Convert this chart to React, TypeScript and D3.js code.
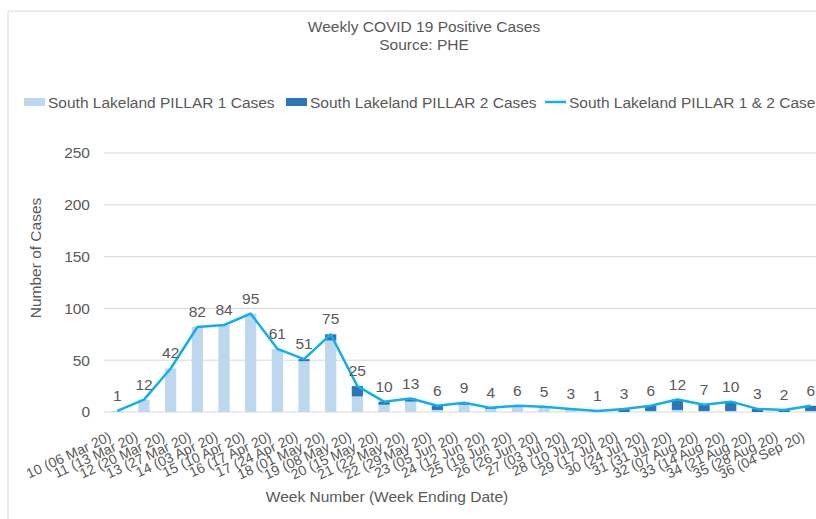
import React from "react";
import * as d3 from "d3";

// weekly data, South Lakeland
const weeks = ["10 (06 Mar 20)", "11 (13 Mar 20)", "12 (20 Mar 20)", "13 (27 Mar 20)", "14 (03 Apr 20)",
  "15 (10 Apr 20)", "16 (17 Apr 20)", "17 (24 Apr 20)", "18 (01 May 20)", "19 (08 May 20)",
  "20 (15 May 20)", "21 (22 May 20)", "22 (29 May 20)", "23 (05 Jun 20)", "24 (12 Jun 20)",
  "25 (19 Jun 20)", "26 (26 Jun 20)", "27 (03 Jul 20)", "28 (10 Jul 20)", "29 (17 Jul 20)",
  "30 (24 Jul 20)", "31 (31 Jul 20)", "32 (07 Aug 20)", "33 (14 Aug 20)", "34 (21 Aug 20)",
  "35 (28 Aug 20)", "36 (04 Sep 20)"];
const pillar1 = [1, 12, 42, 82, 84, 95, 61, 49, 69, 15, 7, 10, 2, 7, 3, 5, 4, 2, 0, 0, 1, 2, 1, 1, 0, 0, 1];
const pillar2 = [0, 0, 0, 0, 0, 0, 0, 2, 6, 10, 3, 3, 4, 2, 1, 1, 1, 1, 1, 3, 5, 10, 6, 9, 3, 2, 5];
const totals = [1, 12, 42, 82, 84, 95, 61, 51, 75, 25, 10, 13, 6, 9, 4, 6, 5, 3, 1, 3, 6, 12, 7, 10, 3, 2, 6];
const yTicks = [0, 50, 100, 150, 200, 250];

const LIGHT = "#bdd7ee";
const DARK = "#2e75b6";
const LINE = "#0fb0ec";
const TEXT = "#595959";

export default function App() {
  const width = 816;
  const height = 519;
  const font = "'Liberation Sans', Arial, sans-serif";

  // plot area runs past the right edge, as in the original export
  const x = d3.scaleBand().domain(weeks).range([104, 104 + 27 * 26.67]).paddingInner(0.58).paddingOuter(0.29);
  const y = d3.scaleLinear().domain([0, 250]).range([412, 153]);
  const cx = (w: string) => (x(w) as number) + x.bandwidth() / 2;

  const line = d3.line<number>()
    .x((d, i) => cx(weeks[i]))
    .y((d) => y(d));

  return (
    <svg width={width} height={height} style={{ position: "absolute", left: 0, top: 0, background: "#fff" }}
      fontFamily={font}>
      {/* chart frame */}
      <line x1={8} y1={11} x2={width} y2={11} stroke="#d9d9d9" />
      <line x1={8} y1={11} x2={8} y2={height} stroke="#d9d9d9" />

      <text x={424} y={32} textAnchor="middle" fontSize={15.5} fill={TEXT}>Weekly COVID 19 Positive Cases</text>
      <text x={424} y={50} textAnchor="middle" fontSize={15.5} fill={TEXT}>Source: PHE</text>

      {/* legend */}
      <rect x={24} y={98} width={21} height={8} fill={LIGHT} />
      <text x={48} y={107.5} fontSize={15.5} fill={TEXT}>South Lakeland PILLAR 1 Cases</text>
      <rect x={286} y={98} width={21} height={8} fill={DARK} />
      <text x={310} y={107.5} fontSize={15.5} fill={TEXT}>South Lakeland PILLAR 2 Cases</text>
      <line x1={545} y1={102} x2={566} y2={102} stroke={LINE} strokeWidth={2.5} />
      <text x={569} y={107.5} fontSize={15.5} fill={TEXT}>South Lakeland PILLAR 1 &amp; 2 Cases</text>

      {/* gridlines + y ticks */}
      {yTicks.map((t) => (
        <g key={t}>
          <line x1={104} x2={width} y1={y(t)} y2={y(t)} stroke="#d9d9d9" />
          <text x={90} y={y(t)} dy="0.35em" textAnchor="end" fontSize={15.5} fill={TEXT}>{t}</text>
        </g>
      ))}

      <text transform={`translate(36,258) rotate(-90)`} textAnchor="middle" dy="0.35em" fontSize={15.5} fill={TEXT}>
        Number of Cases
      </text>

      {/* stacked bars */}
      {weeks.map((w, i) => (
        <g key={w}>
          <rect x={x(w)} width={x.bandwidth()} y={y(pillar1[i])} height={y(0) - y(pillar1[i])} fill={LIGHT} />
          <rect x={x(w)} width={x.bandwidth()} y={y(pillar1[i] + pillar2[i])} height={y(pillar1[i]) - y(pillar1[i] + pillar2[i])} fill={DARK} />
        </g>
      ))}

      <path d={line(totals) || ""} fill="none" stroke={LINE} strokeWidth={2.5} strokeLinejoin="round" />

      {/* data labels */}
      {weeks.map((w, i) => (
        <text key={w} x={cx(w)} y={y(totals[i]) - 10} textAnchor="middle" fontSize={15.5} fill={TEXT}>{totals[i]}</text>
      ))}

      {/* x tick labels */}
      {weeks.map((w) => (
        <text key={w} transform={`translate(${cx(w) - 5},${440}) rotate(-25)`} textAnchor="end" fontSize={14} fill={TEXT}>
          {w}
        </text>
      ))}

      <text x={387} y={502} textAnchor="middle" fontSize={15.5} fill={TEXT}>Week Number (Week Ending Date)</text>
    </svg>
  );
}
